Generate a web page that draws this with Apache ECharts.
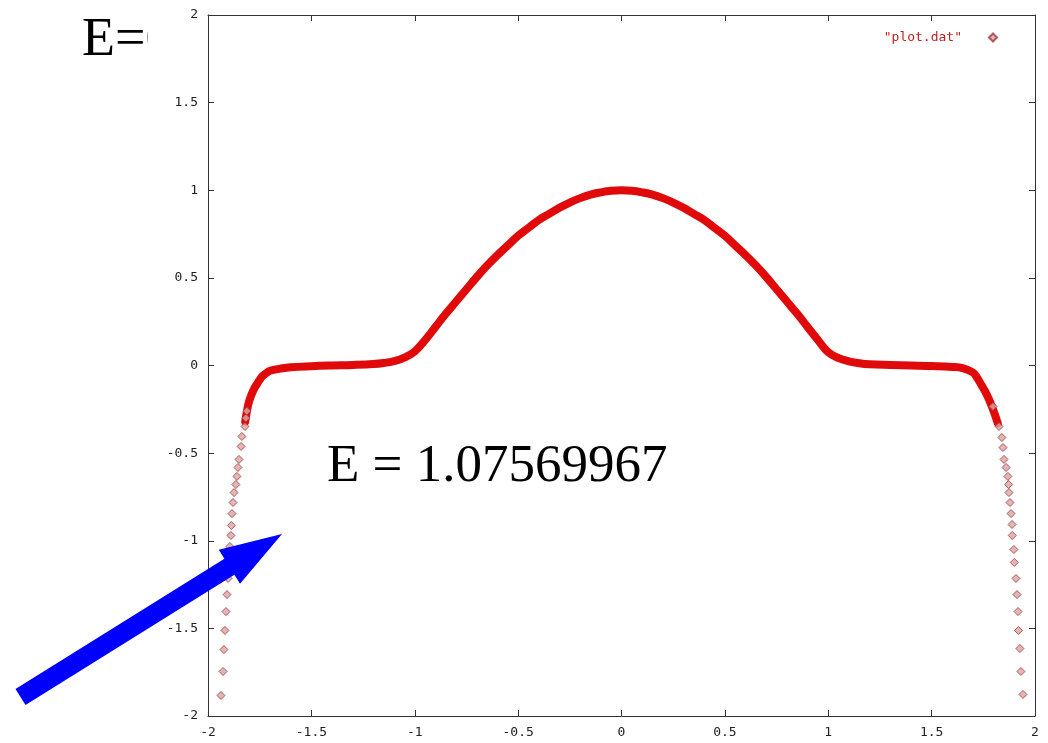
<!DOCTYPE html>
<html>
<head>
<meta charset="utf-8">
<title>plot.dat</title>
<script src="https://cdn.jsdelivr.net/npm/echarts@6/dist/echarts.min.js"></script>
<style>
  html, body { margin: 0; padding: 0; background: #fff; }
  #chart { width: 1048px; height: 743px; }
</style>
</head>
<body>
<div id="chart"></div>
<script>
  // dense part of the curve (drawn as a thick band)
  const curveX = [-1.82, -1.81, -1.80, -1.78, -1.76, -1.74, -1.72, -1.70, -1.65, -1.60, -1.50, -1.40, -1.30, -1.20, -1.15, -1.10, -1.05, -1.00,
    -0.95, -0.90, -0.85, -0.80, -0.75, -0.70, -0.65, -0.60, -0.55, -0.50, -0.45, -0.40, -0.35, -0.30, -0.25, -0.20, -0.15, -0.10, -0.05, 0,
    0.05, 0.10, 0.15, 0.20, 0.25, 0.30, 0.35, 0.40, 0.45, 0.50, 0.55, 0.60, 0.65, 0.70, 0.75, 0.80, 0.85, 0.90, 0.95,
    1.00, 1.05, 1.10, 1.15, 1.20, 1.30, 1.40, 1.50, 1.60, 1.65, 1.70, 1.72, 1.74, 1.76, 1.78, 1.80, 1.82];
  const curveY = [-0.32, -0.25, -0.20, -0.14, -0.10, -0.065, -0.045, -0.03, -0.018, -0.01, -0.004, 0.0, 0.003, 0.008, 0.014, 0.025, 0.045, 0.08,
    0.145, 0.22, 0.295, 0.365, 0.435, 0.505, 0.57, 0.63, 0.685, 0.74, 0.785, 0.83, 0.865, 0.90, 0.93, 0.955, 0.975, 0.988, 0.997, 1.0,
    0.997, 0.988, 0.975, 0.955, 0.93, 0.90, 0.865, 0.83, 0.785, 0.74, 0.685, 0.63, 0.57, 0.505, 0.435, 0.365, 0.295, 0.22, 0.145,
    0.075, 0.042, 0.024, 0.013, 0.007, 0.003, 0.0, -0.003, -0.008, -0.015, -0.04, -0.07, -0.11, -0.15, -0.20, -0.26, -0.33];

  // sparse tails (individual diamonds)
  const leftTailX = [-1.812, -1.817, -1.821, -1.836, -1.840, -1.850, -1.855, -1.860, -1.865, -1.874, -1.879, -1.884, -1.887,
    -1.889, -1.894, -1.898, -1.900, -1.903, -1.908, -1.913, -1.918, -1.923, -1.927, -1.937];
  const leftTailY = [-0.26, -0.30, -0.348, -0.405, -0.462, -0.536, -0.582, -0.633, -0.679, -0.725, -0.782, -0.845, -0.913,
    -0.970, -1.033, -1.096, -1.153, -1.215, -1.307, -1.404, -1.512, -1.621, -1.746, -1.883];
  const rightTailX = [1.797, 1.826, 1.840, 1.845, 1.850, 1.860, 1.869, 1.872, 1.874, 1.879, 1.884, 1.889, 1.890,
    1.898, 1.900, 1.908, 1.913, 1.918, 1.920, 1.927, 1.932, 1.942];
  const rightTailY = [-0.234, -0.348, -0.411, -0.468, -0.536, -0.582, -0.633, -0.679, -0.725, -0.782, -0.845, -0.907, -0.970,
    -1.050, -1.124, -1.215, -1.307, -1.404, -1.512, -1.615, -1.746, -1.877];

  const xTicks = [-2, -1.5, -1, -0.5, 0, 0.5, 1, 1.5, 2];
  const yTicks = [-2, -1.5, -1, -0.5, 0, 0.5, 1, 1.5, 2];

  const zip = (xs, ys) => xs.map((x, i) => [x, ys[i]]);
  const tailPoints = zip(leftTailX, leftTailY).concat(zip(rightTailX, rightTailY));

  const tickFont = { color: '#222', fontFamily: '"DejaVu Sans Mono", monospace', fontSize: 13 };
  const frameLine = { show: true, onZero: false, lineStyle: { color: '#333', width: 1 } };
  const inTick = { show: true, inside: true, length: 6, lineStyle: { color: '#333' } };

  function valueAxis(ticks, pos, labels) {
    return {
      type: 'value', position: pos,
      min: ticks[0], max: ticks[ticks.length - 1], interval: ticks[1] - ticks[0],
      axisLine: frameLine, axisTick: inTick, splitLine: { show: false },
      axisLabel: Object.assign({ show: labels, margin: 10 }, tickFont)
    };
  }

  const chart = echarts.init(document.getElementById('chart'));
  chart.setOption({
    animation: false,
    backgroundColor: '#fff',
    grid: { left: 208, right: 13, top: 15, bottom: 27 },
    xAxis: [valueAxis(xTicks, 'bottom', true), valueAxis(xTicks, 'top', false)],
    yAxis: [valueAxis(yTicks, 'left', true), valueAxis(yTicks, 'right', false)],
    legend: {
      data: ['"plot.dat"'],
      right: 45, top: 26, align: 'right',
      itemWidth: 8, itemHeight: 8,
      textStyle: { color: '#c02020', fontFamily: '"DejaVu Sans Mono", monospace', fontSize: 13, padding: [0, 22, 0, 0] }
    },
    series: [
      {
        name: 'band', type: 'line', data: zip(curveX, curveY),
        smooth: 0.4, showSymbol: false,
        lineStyle: { color: '#e00a0a', width: 8, cap: 'round', join: 'round' }, z: 2
      },
      {
        name: '"plot.dat"', type: 'scatter', data: tailPoints,
        symbol: 'diamond', symbolSize: 8,
        itemStyle: { color: '#dca4a4', borderColor: '#9c3a3a', borderWidth: 1 }, z: 3
      }
    ],
    graphic: [
      { type: 'text', x: 82, y: 41, z: 10,
        style: { text: 'E=0', font: '54px "Liberation Serif"', fill: '#000', verticalAlign: 'middle' } },
      { type: 'rect', z: 11, shape: { x: 148, y: 0, width: 38, height: 90 }, style: { fill: '#fff' } },
      { type: 'text', x: 327, y: 467, z: 10,
        style: { text: 'E = 1.07569967', font: '53px "Liberation Serif"', fill: '#000', verticalAlign: 'middle' } },
      { type: 'polygon', z: 12,
        shape: { points: [[15.5, 689], [224.4, 558.7], [218.8, 549.7], [282, 534], [240, 583.7], [234.4, 574.7], [25.5, 705]] },
        style: { fill: '#0000ff' } }
    ]
  });
</script>
</body>
</html>
